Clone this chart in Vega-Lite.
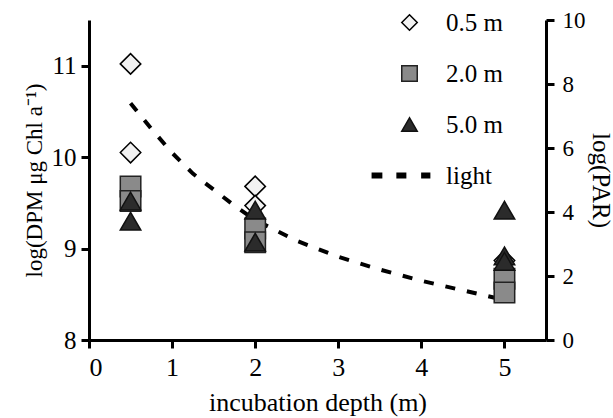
{
  "$schema": "https://vega.github.io/schema/vega-lite/v6.json",
  "autosize": "none",
  "width": 457,
  "height": 320,
  "padding": {"left": 89, "top": 20, "right": 67, "bottom": 78},
  "background": "white",
  "config": {
    "view": {"stroke": null},
    "axis": {
      "grid": false,
      "domainColor": "black",
      "domainWidth": 3,
      "tickColor": "black",
      "tickWidth": 3,
      "tickSize": 8,
      "labelFont": "Liberation Serif",
      "labelFontSize": 25,
      "labelColor": "black",
      "titleFont": "Liberation Serif",
      "titleFontSize": 25,
      "titleFontWeight": "normal",
      "titleColor": "black"
    },
    "legend": {
      "labelFont": "Liberation Serif",
      "labelFontSize": 25,
      "labelColor": "black"
    }
  },
  "datasets": {
    "pts": [
      {"depth": 0.5, "dpm": 11.02, "series": "0.5 m"},
      {"depth": 0.5, "dpm": 10.05, "series": "0.5 m"},
      {"depth": 2, "dpm": 9.68, "series": "0.5 m"},
      {"depth": 2, "dpm": 9.47, "series": "0.5 m"},
      {"depth": 5, "dpm": 8.87, "series": "0.5 m"},
      {"depth": 0.5, "dpm": 9.68, "series": "2.0 m"},
      {"depth": 0.5, "dpm": 9.52, "series": "2.0 m"},
      {"depth": 2, "dpm": 9.22, "series": "2.0 m"},
      {"depth": 2, "dpm": 9.07, "series": "2.0 m"},
      {"depth": 5, "dpm": 8.67, "series": "2.0 m"},
      {"depth": 5, "dpm": 8.52, "series": "2.0 m"},
      {"depth": 0.5, "dpm": 9.52, "series": "5.0 m"},
      {"depth": 0.5, "dpm": 9.30, "series": "5.0 m"},
      {"depth": 2, "dpm": 9.42, "series": "5.0 m"},
      {"depth": 2, "dpm": 9.07, "series": "5.0 m"},
      {"depth": 5, "dpm": 9.42, "series": "5.0 m"},
      {"depth": 5, "dpm": 8.92, "series": "5.0 m"},
      {"depth": 5, "dpm": 8.86, "series": "5.0 m"}
    ],
    "light": [
      {"depth": 0.5, "par": 7.4},
      {"depth": 0.75, "par": 6.6},
      {"depth": 1, "par": 5.85},
      {"depth": 1.25, "par": 5.2},
      {"depth": 1.5, "par": 4.7},
      {"depth": 1.75, "par": 4.2},
      {"depth": 2, "par": 3.75},
      {"depth": 2.5, "par": 3.1},
      {"depth": 3, "par": 2.6},
      {"depth": 3.5, "par": 2.2},
      {"depth": 4, "par": 1.85},
      {"depth": 4.5, "par": 1.55},
      {"depth": 5, "par": 1.25}
    ]
  },
  "layer": [
    {
      "data": {"name": "light"},
      "mark": {"type": "line", "color": "black", "strokeWidth": 4, "strokeDash": [10, 12]},
      "encoding": {
        "x": {"field": "depth", "type": "quantitative", "scale": {"domain": [0, 5.5], "nice": false},
          "axis": {"values": [0, 1, 2, 3, 4, 5], "format": "d", "title": "incubation depth (m)", "labelFontSize": 26, "titleFontSize": 26, "labelPadding": 6, "titlePadding": 9}},
        "y": {"field": "par", "type": "quantitative", "scale": {"domain": [0, 10], "nice": false},
          "axis": {"orient": "right", "values": [0, 2, 4, 6, 8, 10], "title": "log(PAR)", "labelFontSize": 23, "titleFontSize": 25, "labelPadding": 8, "titlePadding": 2}}
      }
    },
    {
      "data": {"name": "pts"},
      "mark": {"type": "point", "filled": true, "size": 420, "strokeWidth": 1.5, "opacity": 1},
      "encoding": {
        "x": {"field": "depth", "type": "quantitative"},
        "y": {"field": "dpm", "type": "quantitative", "scale": {"domain": [8, 11.5], "nice": false},
          "axis": {"orient": "left", "values": [8, 9, 10, 11], "title": "log(DPM μg Chl a⁻¹)", "labelFontSize": 25, "titleFontSize": 23, "labelPadding": 5, "titlePadding": 5}},
        "shape": {"field": "series", "type": "nominal",
          "scale": {"domain": ["0.5 m", "2.0 m", "5.0 m", "light"],
            "range": ["diamond", "square", "triangle-up", "M-4.8,-0.28H-3.6V0.28H-4.8Z M-1.6,-0.28H-0.5V0.28H-1.6Z M1.6,-0.28H2.6V0.28H1.6Z"]},
          "legend": {"title": null, "orient": "none", "legendX": 308, "legendY": -10, "symbolSize": 240, "symbolStrokeWidth": 1.5, "rowPadding": 25, "labelOffset": 24}},
        "fill": {"field": "series", "type": "nominal",
          "scale": {"domain": ["0.5 m", "2.0 m", "5.0 m", "light"], "range": ["#f2f2f2", "#8a8a8a", "#2b2b2b", "black"]},
          "legend": {"title": null, "orient": "none", "legendX": 308, "legendY": -10, "symbolSize": 240, "symbolStrokeWidth": 1.5, "rowPadding": 25, "labelOffset": 24}},
        "stroke": {"field": "series", "type": "nominal",
          "scale": {"domain": ["0.5 m", "2.0 m", "5.0 m", "light"], "range": ["black", "#222222", "#111111", "black"]},
          "legend": {"title": null, "orient": "none", "legendX": 308, "legendY": -10, "symbolSize": 240, "symbolStrokeWidth": 1.5, "rowPadding": 25, "labelOffset": 24}}
      }
    }
  ],
  "resolve": {"scale": {"y": "independent"}}
}
